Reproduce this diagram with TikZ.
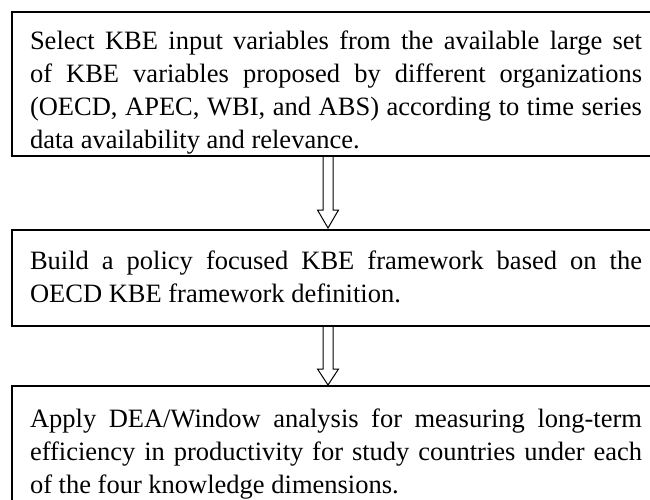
\documentclass[tikz,border=0pt]{standalone}
\usepackage{fontspec}
\setmainfont{Liberation Serif}
\usetikzlibrary{calc}
\hyphenpenalty=10000
\exhyphenpenalty=10000
\begin{document}
\begin{tikzpicture}[x=1pt,y=-1pt,
  box/.style={draw, line width=1.6pt, anchor=north west, inner sep=0pt, outer sep=0pt, minimum width=660pt},
  txt/.style={anchor=north west, inner sep=0pt, outer sep=0pt, text width=612pt, align=justify, font=\fontsize{26.5}{33}\selectfont},
  arr/.style={draw, line width=1pt, line join=miter}]
\useasboundingbox (0,0) rectangle (650,499);
\fill[white] (0,0) rectangle (650,499);
\clip (0,0) rectangle (650,499);
\node[box, minimum height=144pt] (b1) at (12,12) {};
\node[box, minimum height=96pt] (b2) at (12,230) {};
\node[box, minimum height=150pt] (b3) at (12,386) {};
\node[txt] (t1) at (30,31) {Select KBE input variables from the available large set\linebreak of KBE variables proposed by different organizations\linebreak (OECD, APEC, WBI, and ABS) according to time series\linebreak data availability and relevance.};
\node[txt] (t2) at (30,251) {Build a policy focused KBE framework based on the\linebreak OECD KBE framework definition.};
\node[txt] (t3) at (30,409) {Apply DEA/Window analysis for measuring long-term\linebreak efficiency in productivity for study countries under each\linebreak of the four knowledge dimensions.};
\coordinate (a1) at ($(b1.south west)+(316,0)$);
\coordinate (a2) at ($(b2.south west)+(316,0)$);
\draw[arr, shift={(a1)}] (-5,0) -- (-5,54) -- (-10.5,54) -- (0,72) -- (10.5,54) -- (5,54) -- (5,0);
\draw[arr, shift={(a2)}] (-5,0) -- (-5,43) -- (-10.5,43) -- (0,59) -- (10.5,43) -- (5,43) -- (5,0);
\end{tikzpicture}
\end{document}
